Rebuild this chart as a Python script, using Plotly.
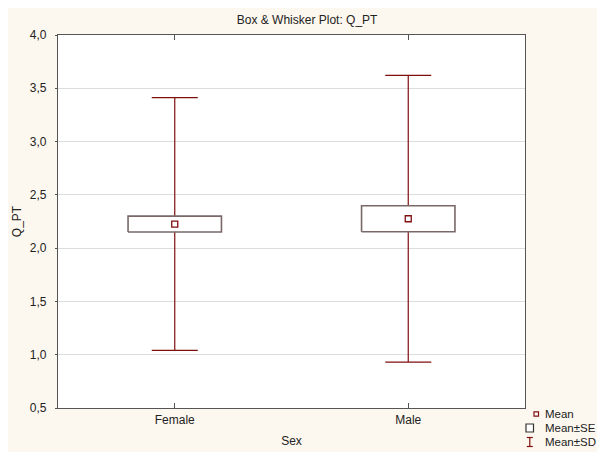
import plotly.graph_objects as go

categories = ["Female", "Male"]
means = [2.226, 2.276]
se = [0.074, 0.122]
sd = [1.186, 1.345]
y_ticks = [0.5, 1.0, 1.5, 2.0, 2.5, 3.0, 3.5, 4.0]
legend_labels = ["Mean", "Mean±SE", "Mean±SD"]

xpos = list(range(len(categories)))
red = "#7f0f0f"
boxline = "#7a6868"
frame = "#555555"
txt = "#222222"
font = "Liberation Sans, Arial, sans-serif"

W, H = 597, 444
ML, MR, MT, MB = 50, 80, 27, 44
PW, PH = W - ML - MR, H - MT - MB


def px(fx):
    return (fx - ML) / PW


def py(fy):
    return (H - MB - fy) / PH


fig = go.Figure()

# whiskers (Mean ± SD)
fig.add_trace(go.Scatter(
    x=xpos, y=means, mode="markers", name="Mean±SD", showlegend=False,
    marker=dict(symbol="line-ns-open", size=8, color=red, line=dict(color=red, width=1)),
    error_y=dict(type="data", array=sd, visible=True, color=red, thickness=1.2, width=23),
    hoverinfo="skip",
))

# boxes (Mean ± SE)
bw = 0.2
for i, (m, s) in enumerate(zip(means, se)):
    lo, hi = m - s, m + s
    fig.add_trace(go.Scatter(
        x=[i - bw, i + bw, i + bw, i - bw, i - bw],
        y=[lo, lo, hi, hi, lo],
        mode="lines", fill="toself", fillcolor="white",
        line=dict(color=boxline, width=1.6),
        name="Mean±SE", showlegend=False,
        hoverinfo="skip",
    ))

# means
fig.add_trace(go.Scatter(
    x=xpos, y=means, mode="markers", name="Mean", showlegend=False,
    marker=dict(symbol="square", size=6, color="white", line=dict(color=red, width=1.3)),
))

# legend (drawn manually to match compact spacing)
rows = [406, 420, 434]
shapes = []
shapes.append(dict(type="rect", xref="paper", yref="paper",
                   x0=px(526), x1=px(530.5), y0=py(rows[0] - 2.2), y1=py(rows[0] + 2.2),
                   line=dict(color=red, width=1.2), fillcolor="white"))
shapes.append(dict(type="rect", xref="paper", yref="paper",
                   x0=px(518), x1=px(525.5), y0=py(rows[1] - 4), y1=py(rows[1] + 4),
                   line=dict(color="#333333", width=1.2), fillcolor="white"))
cx = 521.8
for (x0, y0, x1, y1) in [(cx, rows[2] - 4.5, cx, rows[2] + 4.5),
                         (cx - 3, rows[2] - 4.5, cx + 3, rows[2] - 4.5),
                         (cx - 3, rows[2] + 4.5, cx + 3, rows[2] + 4.5)]:
    shapes.append(dict(type="line", xref="paper", yref="paper",
                       x0=px(x0), x1=px(x1), y0=py(y0), y1=py(y1),
                       line=dict(color=red, width=1.2)))

annotations = []
for lab, r in zip(legend_labels, rows):
    annotations.append(dict(text=lab, xref="paper", yref="paper", x=px(535), y=py(r),
                            xanchor="left", yanchor="middle", showarrow=False,
                            font=dict(size=11.5, color=txt, family=font)))

fig.update_layout(
    width=W, height=H,
    paper_bgcolor="#fdf8ef", plot_bgcolor="white",
    margin=dict(l=ML, r=MR, t=MT, b=MB, autoexpand=False),
    separators=", ",
    font=dict(family=font, size=12, color=txt),
    title=dict(text="Box & Whisker Plot: Q_PT", x=0.501, xref="container", xanchor="center",
               y=0.973, yref="container", yanchor="middle", font=dict(size=12, color=txt)),
    showlegend=False,
    shapes=shapes,
    annotations=annotations,
)
fig.update_xaxes(
    range=[-0.5, 1.5], tickvals=xpos, ticktext=categories,
    showgrid=False, zeroline=False,
    showline=True, linecolor=frame, linewidth=1.3, mirror="ticks",
    ticks="inside", ticklen=5, tickcolor=frame,
    title=dict(text="Sex", standoff=11, font=dict(size=12)),
)
fig.update_yaxes(
    range=[0.5, 4.0], tickvals=y_ticks, tickformat=".1f",
    showgrid=True, gridcolor="#dcdcdc", gridwidth=1, zeroline=False,
    showline=True, linecolor=frame, linewidth=1.3, mirror=True,
    ticks="outside", ticklen=2, tickcolor=frame, ticklabelstandoff=6,
    title=dict(text="Q_PT", standoff=5, font=dict(size=12)),
)

fig.write_html("out.html")
